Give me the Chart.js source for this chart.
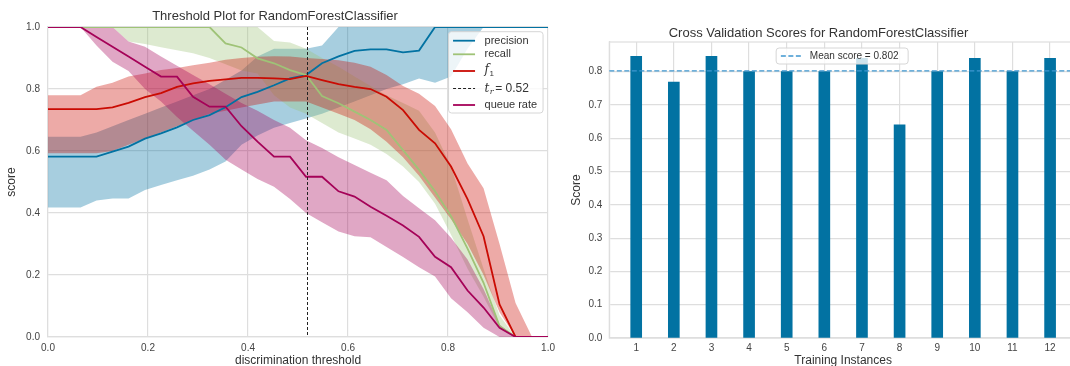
<!DOCTYPE html>
<html>
<head>
<meta charset="utf-8">
<script src="https://cdn.jsdelivr.net/npm/chart.js@4.4.1/dist/chart.umd.min.js"></script>
<style>
  html, body { margin:0; padding:0; background:#fff; width:1070px; height:366px; overflow:hidden; position:relative; }
  canvas { position:absolute; top:0; }
  #left { left:0; }
  #right { left:560px; }
</style>
</head>
<body>
<canvas id="left" width="560" height="372"></canvas>
<canvas id="right" width="520" height="372"></canvas>
<script>
// ---------------- Data: threshold plot ----------------
const thresholds = [0,0.032,0.065,0.097,0.129,0.161,0.194,0.226,0.258,0.29,0.323,0.355,0.387,0.419,0.452,0.484,0.516,0.548,0.581,0.613,0.645,0.677,0.71,0.742,0.774,0.806,0.839,0.871,0.903,0.935,0.968,1.0];

const precisionMedian = [0.582,0.582,0.582,0.582,0.598,0.614,0.64,0.657,0.676,0.70,0.716,0.741,0.774,0.791,0.812,0.834,0.845,0.883,0.905,0.923,0.928,0.928,0.918,0.924,1,1,1,1,1,1,1,1];
const precisionUpper  = [0.646,0.646,0.646,0.66,0.68,0.70,0.72,0.74,0.76,0.78,0.80,0.83,0.86,0.905,0.93,0.93,0.93,0.94,1,1,1,1,1,1,1,1,1,1,1,1,1,1];
const precisionLower  = [0.418,0.418,0.418,0.44,0.447,0.447,0.474,0.49,0.506,0.52,0.54,0.566,0.62,0.65,0.675,0.69,0.705,0.72,0.74,0.76,0.78,0.80,0.815,0.834,0.82,0.84,0.93,1,1,1,1,1];

const recallMedian = [1,1,1,1,1,1,1,1,1,1,1,0.947,0.934,0.899,0.883,0.861,0.845,0.777,0.754,0.727,0.70,0.668,0.603,0.539,0.47,0.39,0.285,0.175,0.035,0,0,0];
const recallUpper  = [1,1,1,1,1,1,1,1,1,1,1,1,1,1,0.955,0.95,0.93,0.90,0.872,0.84,0.81,0.78,0.755,0.73,0.66,0.55,0.38,0.22,0.07,0,0,0];
const recallLower  = [1,1,1,1,1,0.953,0.945,0.935,0.925,0.915,0.90,0.88,0.86,0.85,0.78,0.74,0.72,0.69,0.66,0.64,0.62,0.59,0.55,0.50,0.43,0.33,0.22,0.13,0.03,0,0,0];

const f1Median = [0.735,0.735,0.735,0.735,0.741,0.755,0.774,0.787,0.807,0.818,0.826,0.831,0.836,0.836,0.834,0.832,0.842,0.829,0.816,0.807,0.80,0.775,0.732,0.668,0.625,0.55,0.445,0.325,0.105,0,0,0];
const f1Upper  = [0.78,0.78,0.78,0.807,0.82,0.84,0.85,0.861,0.868,0.877,0.885,0.894,0.90,0.904,0.906,0.905,0.90,0.897,0.893,0.885,0.872,0.845,0.81,0.785,0.745,0.67,0.56,0.48,0.30,0.11,0,0];
const f1Lower  = [0.593,0.593,0.593,0.593,0.60,0.62,0.64,0.66,0.68,0.70,0.72,0.73,0.74,0.75,0.76,0.76,0.76,0.74,0.72,0.70,0.67,0.63,0.58,0.52,0.45,0.38,0.30,0.20,0.08,0,0,0];

const queueMedian = [1,1,1,0.968,0.936,0.905,0.872,0.84,0.84,0.775,0.743,0.743,0.68,0.63,0.582,0.582,0.517,0.517,0.47,0.453,0.42,0.391,0.36,0.323,0.259,0.225,0.15,0.095,0.03,0,0,0];
const queueUpper  = [1,1,1,1,1,0.953,0.936,0.905,0.875,0.845,0.815,0.785,0.755,0.73,0.70,0.675,0.635,0.61,0.58,0.555,0.53,0.506,0.455,0.415,0.377,0.32,0.25,0.155,0.04,0,0,0];
const queueLower  = [1,1,1,0.94,0.888,0.858,0.80,0.76,0.71,0.665,0.62,0.572,0.54,0.51,0.485,0.445,0.40,0.37,0.34,0.325,0.322,0.29,0.258,0.225,0.195,0.125,0.08,0.03,0,0,0,0];

const thresholdRate = 0.517;
const thresholdTicks = [0, 0.2, 0.4, 0.6, 0.8, 1.0];
const scoreTicks = [0, 0.2, 0.4, 0.6, 0.8, 1.0];

// ---------------- Data: cross validation ----------------
const trainingInstances = [1,2,3,4,5,6,7,8,9,10,11,12];
const cvScores = [0.846,0.769,0.846,0.8,0.8,0.8,0.84,0.64,0.8,0.84,0.8,0.84];
const meanScore = 0.802;
const cvScoreTicks = [0,0.1,0.2,0.3,0.4,0.5,0.6,0.7,0.8];
const cvScoreMax = 0.889;

// ---------------- Styles ----------------
const FONT = "'Liberation Sans', Arial, Helvetica, sans-serif";
const C = { blue:'#0272a2', green:'#9fc377', red:'#ca0b03', purple:'#a50258', mean:'#3f97cf' };
const GRID = '#dedede';
const TXT = '#333';
const TICK = '#444';

function rgba(hex, a) {
  const n = parseInt(hex.slice(1), 16);
  return `rgba(${(n>>16)&255},${(n>>8)&255},${n&255},${a})`;
}
function pts(ys) { return thresholds.map((t, i) => ({ x: t, y: ys[i] })); }
function roundRect(ctx, x, y, w, h, r) {
  ctx.beginPath();
  ctx.moveTo(x + r, y);
  ctx.lineTo(x + w - r, y); ctx.quadraticCurveTo(x + w, y, x + w, y + r);
  ctx.lineTo(x + w, y + h - r); ctx.quadraticCurveTo(x + w, y + h, x + w - r, y + h);
  ctx.lineTo(x + r, y + h); ctx.quadraticCurveTo(x, y + h, x, y + h - r);
  ctx.lineTo(x, y + r); ctx.quadraticCurveTo(x, y, x + r, y);
  ctx.closePath();
}

// ---------------- Left chart ----------------
const bands = [
  [precisionUpper, precisionLower, C.blue],
  [recallUpper, recallLower, C.green],
  [f1Upper, f1Lower, C.red],
  [queueUpper, queueLower, C.purple],
];
const lines = [
  [precisionMedian, C.blue],
  [recallMedian, C.green],
  [f1Median, C.red],
  [queueMedian, C.purple],
];
const leftDatasets = [];
bands.forEach(([u, l, c]) => {
  leftDatasets.push({ data: pts(u), fill: '+1', backgroundColor: rgba(c, 0.35), borderWidth: 0, pointRadius: 0 });
  leftDatasets.push({ data: pts(l), fill: false, borderWidth: 0, pointRadius: 0 });
});
lines.forEach(([m, c]) => {
  leftDatasets.push({ data: pts(m), fill: false, borderColor: c, borderWidth: 1.8, pointRadius: 0 });
});
leftDatasets.forEach((d, i) => { d.order = leftDatasets.length - i; d.tension = 0; });

const thresholdLine = {
  id: 'thresholdLine',
  afterDatasetsDraw(chart) {
    const { ctx, chartArea: a, scales } = chart;
    const x = Math.round(scales.x.getPixelForValue(thresholdRate)) + 0.5;
    ctx.save();
    ctx.strokeStyle = '#222'; ctx.lineWidth = 1; ctx.setLineDash([3, 2]);
    ctx.beginPath(); ctx.moveTo(x, a.top); ctx.lineTo(x, a.bottom); ctx.stroke();
    ctx.restore();
  }
};

const leftLegend = {
  id: 'leftLegend',
  afterDraw(chart) {
    const { ctx, chartArea: a } = chart;
    const bx = a.right - 99.5, by = a.top + 4.7, bw = 94.5, bh = 81.3;
    ctx.save();
    roundRect(ctx, bx, by, bw, bh, 3);
    ctx.fillStyle = 'rgba(255,255,255,0.8)'; ctx.fill();
    ctx.strokeStyle = '#d6d6d6'; ctx.lineWidth = 1; ctx.stroke();
    const rows = [
      { dy: 13.7, color: C.blue, label: 'precision' },
      { dy: 27.3, color: C.green, label: 'recall' },
      { dy: 44.0, color: C.red, math: 'f1' },
      { dy: 61.5, color: '#222', dash: true, math: 'tr' },
      { dy: 78.0, color: C.purple, label: 'queue rate' },
    ];
    const lx0 = a.right - 95, lx1 = a.right - 73, tx = a.right - 63.5;
    rows.forEach(r => {
      const y = a.top + r.dy;
      ctx.strokeStyle = r.color; ctx.lineWidth = r.dash ? 1.2 : 1.8;
      ctx.setLineDash(r.dash ? [3, 2] : []);
      ctx.beginPath(); ctx.moveTo(lx0, y); ctx.lineTo(lx1, y); ctx.stroke();
      ctx.setLineDash([]);
      ctx.fillStyle = TXT; ctx.textBaseline = 'middle'; ctx.textAlign = 'left';
      if (r.label) {
        ctx.font = `11px ${FONT}`; ctx.fillText(r.label, tx, y);
      } else if (r.math === 'f1') {
        ctx.font = `italic 12px 'DejaVu Serif', serif`; ctx.fillText('f', tx, y - 1);
        const w = ctx.measureText('f').width;
        ctx.font = `8px ${FONT}`; ctx.fillText('1', tx + w + 0.5, y + 3);
      } else {
        ctx.font = `italic 12px 'DejaVu Serif', serif`; ctx.fillText('t', tx, y);
        let w = ctx.measureText('t').width;
        ctx.font = `italic 8px 'DejaVu Serif', serif`; ctx.fillText('r', tx + w + 0.5, y + 3);
        w += ctx.measureText('r').width + 1;
        ctx.font = `12px ${FONT}`; ctx.fillText('= ' + thresholdRate.toFixed(2), tx + w + 1, y);
      }
    });
    ctx.restore();
  }
};

new Chart(document.getElementById('left'), {
  type: 'line',
  data: { datasets: leftDatasets },
  plugins: [thresholdLine, leftLegend],
  options: {
    responsive: false, animation: false, events: [],
    layout: { padding: { left: 0, right: 10, top: 0, bottom: 0 } },
    plugins: {
      legend: { display: false }, tooltip: { enabled: false },
      title: { display: true, text: 'Threshold Plot for RandomForestClassifier', color: TXT,
        font: { family: FONT, size: 13, weight: 'normal' }, padding: { top: 8.2, bottom: 3.2 } },
      filler: { propagate: false }
    },
    scales: {
      x: {
        type: 'linear', min: 0, max: 1,
        afterBuildTicks: s => { s.ticks = thresholdTicks.map(v => ({ value: v })); },
        afterFit: s => { s.height = 35; },
        ticks: { callback: v => Number(v).toFixed(1), color: TICK, font: { family: FONT, size: 10 }, padding: 5, maxRotation: 0 },
        grid: { color: GRID, lineWidth: 1.2, drawTicks: false },
        border: { color: GRID, width: 1.2 },
        title: { display: true, text: 'discrimination threshold', color: TXT, font: { family: FONT, size: 12 }, padding: { top: 0, bottom: 3.8 } }
      },
      y: {
        type: 'linear', min: 0, max: 1,
        afterBuildTicks: s => { s.ticks = scoreTicks.map(v => ({ value: v })); },
        afterFit: s => { s.width = 48; },
        ticks: { callback: v => Number(v).toFixed(1), color: TICK, font: { family: FONT, size: 10 }, padding: 8 },
        grid: { color: GRID, lineWidth: 1.2, drawTicks: false },
        border: { color: GRID, width: 1.2 },
        title: { display: true, text: 'score', color: TXT, font: { family: FONT, size: 12 }, padding: { top: 4.8, bottom: 0 } }
      }
    }
  }
});

// ---------------- Right chart ----------------
const frame = {
  id: 'frame',
  beforeDatasetsDraw(chart) {
    const { ctx, chartArea: a } = chart;
    ctx.save(); ctx.strokeStyle = GRID; ctx.lineWidth = 1.2;
    ctx.strokeRect(a.left, a.top, a.right - a.left, a.bottom - a.top);
    ctx.restore();
  }
};
const meanLine = {
  id: 'meanLine',
  afterDatasetsDraw(chart) {
    const { ctx, chartArea: a, scales } = chart;
    const y = scales.y.getPixelForValue(meanScore);
    ctx.save(); ctx.strokeStyle = C.mean; ctx.lineWidth = 1.3; ctx.setLineDash([5, 2.5]);
    ctx.beginPath(); ctx.moveTo(a.left, y); ctx.lineTo(a.right, y); ctx.stroke();
    ctx.restore();
  }
};
const rightLegend = {
  id: 'rightLegend',
  afterDraw(chart) {
    const { ctx, chartArea: a } = chart;
    const bw = 132, bh = 16;
    const bx = (a.left + a.right) / 2 - bw / 2 - 1, by = a.top + 6;
    ctx.save();
    roundRect(ctx, bx, by, bw, bh, 3);
    ctx.fillStyle = 'rgba(255,255,255,0.8)'; ctx.fill();
    ctx.strokeStyle = '#d6d6d6'; ctx.lineWidth = 1; ctx.stroke();
    const y = by + bh / 2;
    ctx.strokeStyle = C.mean; ctx.lineWidth = 1.3; ctx.setLineDash([5, 2.5]);
    ctx.beginPath(); ctx.moveTo(bx + 4.7, y); ctx.lineTo(bx + 25, y); ctx.stroke();
    ctx.setLineDash([]);
    ctx.fillStyle = TXT; ctx.font = `10px ${FONT}`; ctx.textBaseline = 'middle'; ctx.textAlign = 'left';
    ctx.fillText('Mean score = ' + meanScore.toFixed(3), bx + 33.7, y);
    ctx.restore();
  }
};

new Chart(document.getElementById('right'), {
  type: 'bar',
  data: { datasets: [{
    data: trainingInstances.map((n, i) => ({ x: n, y: cvScores[i] })),
    backgroundColor: C.blue, borderWidth: 0, barThickness: 11
  }] },
  plugins: [frame, meanLine, rightLegend],
  options: {
    responsive: false, animation: false, events: [],
    layout: { padding: { left: 0, right: 3, top: 0, bottom: 0 } },
    plugins: {
      legend: { display: false }, tooltip: { enabled: false },
      title: { display: true, text: 'Cross Validation Scores for RandomForestClassifier', color: TXT,
        font: { family: FONT, size: 13, weight: 'normal' }, padding: { top: 25.5, bottom: 0.9 } }
    },
    scales: {
      x: {
        type: 'linear', min: 0.285, max: 12.715, offset: false,
        afterBuildTicks: s => { s.ticks = trainingInstances.map(v => ({ value: v })); },
        afterFit: s => { s.height = 34; },
        ticks: { callback: v => String(v), color: TICK, font: { family: FONT, size: 10 }, padding: 4, maxRotation: 0, autoSkip: false },
        grid: { color: GRID, lineWidth: 1.2, drawTicks: false, offset: false },
        border: { color: GRID, width: 1.2 },
        title: { display: true, text: 'Training Instances', color: TXT, font: { family: FONT, size: 12 }, padding: { top: 0, bottom: 3.8 } }
      },
      y: {
        type: 'linear', min: 0, max: cvScoreMax,
        afterBuildTicks: s => { s.ticks = cvScoreTicks.map(v => ({ value: v })); },
        afterFit: s => { s.width = 49.3; },
        ticks: { callback: v => Number(v).toFixed(1), color: TICK, font: { family: FONT, size: 10 }, padding: 7 },
        grid: { color: GRID, lineWidth: 1.2, drawTicks: false },
        border: { color: GRID, width: 1.2 },
        title: { display: true, text: 'Score', color: TXT, font: { family: FONT, size: 12 }, padding: { top: 9.8, bottom: 0 } }
      }
    }
  }
});
</script>
</body>
</html>
